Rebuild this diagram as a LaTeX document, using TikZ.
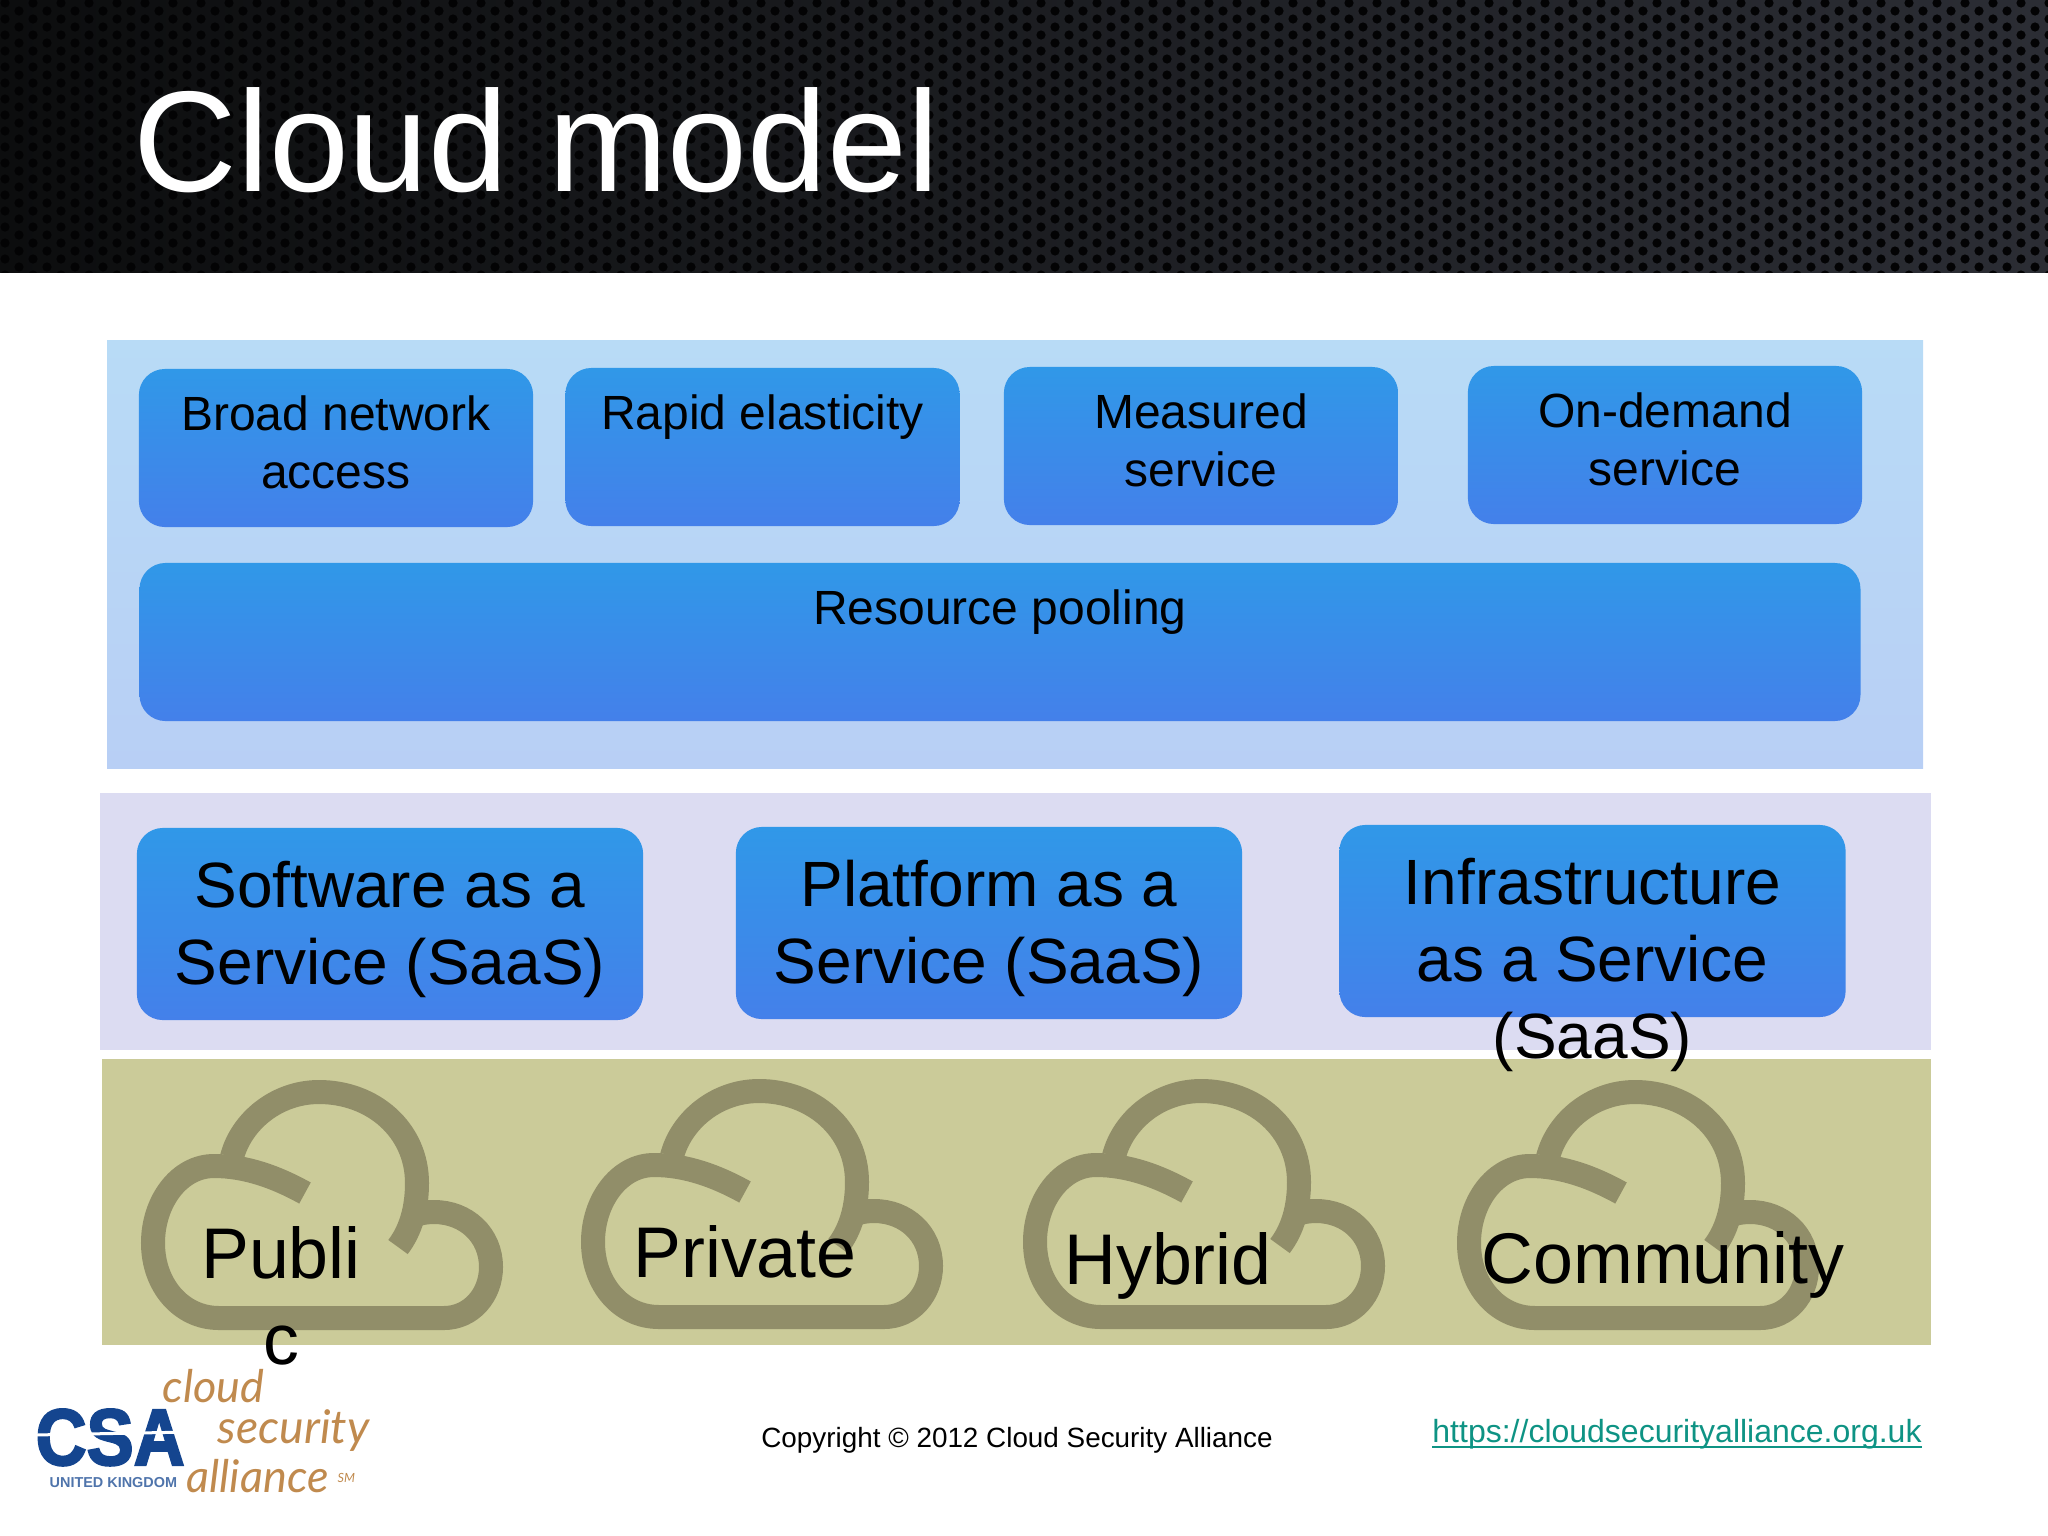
\documentclass[tikz,border=0pt]{standalone}
\usepackage{fontspec}
\setmainfont{Liberation Sans}
\newfontfamily\csafont[UprightFont=* Bold,FakeBold=2.5,FakeStretch=0.88]{Liberation Sans}
\newfontfamily\logofont[ItalicFont=* Italic]{Lato}
\usepackage{tikz}
\definecolor{panelA}{HTML}{B8DBF6}
\definecolor{panelB}{HTML}{B8CFF5}
\definecolor{panelmid}{HTML}{DCDCF2}
\definecolor{panellow}{HTML}{CBCB99}
\definecolor{cloudcol}{HTML}{918E69}
\definecolor{boxtop}{HTML}{3098E8}
\definecolor{boxmid}{HTML}{3692E9}
\definecolor{boxlow}{HTML}{4480EA}
\definecolor{linkcol}{HTML}{0E9384}
\definecolor{csablue}{HTML}{14458F}
\definecolor{csaorange}{HTML}{C08A4E}
\definecolor{bandleft}{HTML}{0C0D0E}
\definecolor{bandmid}{HTML}{1A1B21}
\definecolor{bandright}{HTML}{2B2D34}
\definecolor{banddot}{HTML}{030304}
\tikzset{
  panel/.style={draw=none, rectangle, inner sep=0pt},
  smallbox/.style={rectangle, rounded corners=0.26cm, inner sep=0pt, top color=boxtop, middle color=boxmid, bottom color=boxlow, minimum width=3.94cm, minimum height=1.58cm},
  largebox/.style={smallbox, minimum width=5.06cm, minimum height=1.92cm},
  smalltxt/.style={inner sep=0pt, anchor=north, align=center, font=\fontsize{13.65}{16.5}\selectfont},
  largetxt/.style={inner sep=0pt, anchor=north, align=center, font=\fontsize{18.2}{21.9}\selectfont},
  cloudtxt/.style={inner sep=0pt, align=center, font=\fontsize{20.4}{24.5}\selectfont},
  cloudline/.style={draw=cloudcol, line width=0.24cm, line cap=butt},
  logotxt/.style={inner sep=0pt, anchor=base west, text=csaorange, font=\logofont\itshape\fontsize{12.8}{14}\selectfont},
  cloudicon/.pic={
    \draw[cloudline] (257,167) .. controls (270,150) and (276,128) .. (276,103)
      .. controls (276,50) and (232,12) .. (178,12)
      .. controls (135,12) and (100,42) .. (91,77);
    \draw[cloudline] (164,113) .. controls (135,97) and (105,86) .. (73,86)
      .. controls (38,86) and (12,122) .. (12,163)
      .. controls (12,205) and (40,238) .. (78,238) -- (303,238)
      .. controls (330,238) and (350,215) .. (350,187)
      .. controls (350,155) and (325,132) .. (293,132)
      .. controls (286,132) and (280,133) .. (274,135);
  }
}

\begin{document}
\begin{tikzpicture}[x=0.01cm, y=-0.01cm]
  \useasboundingbox (0,0) rectangle (2048,1536);

  % header band
  \path[left color=bandleft, middle color=bandmid, right color=bandright] (0,0) rectangle (2048,272);
  \begin{scope}
    \clip (0,0) rectangle (2048,272);
    \foreach \col in {0,...,146} {
      \pgfmathsetmacro{\px}{5+14*\col}
      \pgfmathsetmacro{\py}{3+8*mod(\col,2)}
      \foreach \row in {0,...,17}
        \fill[banddot] (\px,\py+16*\row) circle[radius=4.6];
    }
  \end{scope}
  \node[inner sep=0pt, anchor=base west, text=white, font=\fontsize{40.8}{48}\selectfont] (title) at (133,191) {Cloud model};

  % three panels
  \path[top color=panelA, bottom color=panelB] (107,340) rectangle (1923,768);
  \node[panel, fill=panelmid, minimum width=18.29cm, minimum height=2.57cm] (midpanel) at (1015.5,921.5) {};
  \node[panel, fill=panellow, minimum width=18.27cm, minimum height=2.86cm] (lowpanel) at (1016.5,1202) {};

  % top boxes
  \node[smallbox] (broad) at (336,448) {};
  \node[smallbox] (rapid) at (762.5,447) {};
  \node[smallbox] (measured) at (1201,446) {};
  \node[smallbox] (ondemand) at (1665,445) {};
  \node[smallbox, minimum width=17.2cm] (pooling) at (1000,642) {};
  \node[smalltxt] (broadtxt) at ([yshift=-0.272cm]broad.north) {Broad network\\access};
  \node[smalltxt] (rapidtxt) at ([yshift=-0.272cm]rapid.north) {Rapid elasticity};
  \node[smalltxt] (measuredtxt) at ([yshift=-0.272cm]measured.north) {Measured\\service};
  \node[smalltxt] (ondemandtxt) at ([yshift=-0.272cm]ondemand.north) {On-demand\\service};
  \node[smalltxt] (poolingtxt) at ([yshift=-0.272cm]pooling.north) {Resource pooling};

  % service boxes
  \node[largebox] (software) at (390,924) {};
  \node[largebox] (platform) at (989,923) {};
  \node[largebox] (infra) at (1592.5,921) {};
  \node[largetxt] (softwaretxt) at ([yshift=-0.33cm]software.north) {Software as a\\Service (SaaS)};
  \node[largetxt] (platformtxt) at ([yshift=-0.33cm]platform.north) {Platform as a\\Service (SaaS)};
  \node[largetxt] (infratxt) at ([yshift=-0.33cm]infra.north) {Infrastructure\\as a Service\\(SaaS)};

  % clouds
  \pic at (141,1080) {cloudicon};
  \pic at (581,1079) {cloudicon};
  \pic at (1023,1079) {cloudicon};
  \pic at (1457,1080) {cloudicon};
  \node[cloudtxt, anchor=north] (public) at (281,1226) {Publi\\c};
  \node[cloudtxt, anchor=base] (private) at (745,1277) {Private};
  \node[cloudtxt, anchor=base] (hybrid) at (1168,1284) {Hybrid};
  \node[cloudtxt, anchor=base] (community) at (1663,1283) {Community};

  % footer
  \node[inner sep=0pt, anchor=base, font=\fontsize{7.92}{9}\selectfont] (copyright) at (1017,1447) {Copyright © 2012 Cloud Security Alliance};
  \node[inner sep=0pt, anchor=base, text=linkcol, font=\fontsize{9.1}{11}\selectfont] (link) at (1677,1442) {\underline{\smash{https://cloudsecurityalliance.org.uk}}};

  % logo
  \node[inner sep=0pt, anchor=base west, text=csablue, font=\csafont\fontsize{22.8}{26}\selectfont] (csa) at (35,1465) {CSA};
  \draw[white, line width=0.03cm] (34,1435) -- (190,1432);
  \node[inner sep=0pt, anchor=base west, text=csablue!75!white, font=\bfseries\fontsize{4.1}{5}\selectfont] (ukname) at (49,1487) {UNITED KINGDOM};
  \node[logotxt] (cloudword) at (162,1402) {cloud};
  \node[logotxt, font=\logofont\itshape\fontsize{13.2}{14}\selectfont] (security) at (217,1443) {security};
  \node[logotxt] (alliance) at (186,1492) {alliance};
  \node[inner sep=0pt, anchor=base west, text=csaorange, font=\logofont\itshape\fontsize{3.6}{4}\selectfont] (smmark) at (337,1482) {SM};
\end{tikzpicture}
\end{document}
